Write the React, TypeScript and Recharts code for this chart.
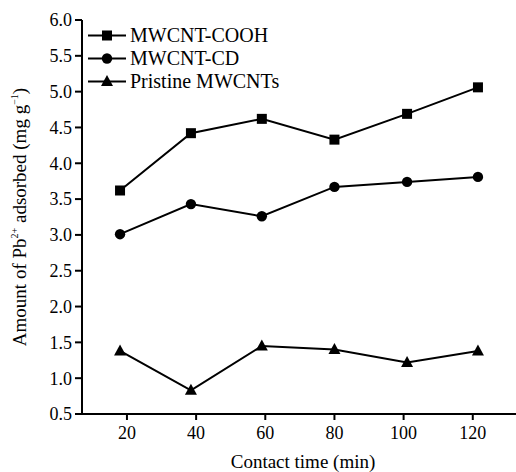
import React from 'react'
import { LineChart, Line, XAxis, YAxis, Legend } from 'recharts'

const FONT = "'Liberation Serif', 'DejaVu Serif', serif"

// contact time (min) for each sampling point
const times = [18, 38.5, 59, 80, 101, 121.5]

// Pb2+ uptake (mg/g)
const cooh = [3.62, 4.42, 4.62, 4.33, 4.69, 5.06]
const cd = [3.01, 3.43, 3.26, 3.67, 3.74, 3.81]
const pristine = [1.38, 0.83, 1.45, 1.4, 1.22, 1.38]

const xTicks = [20, 40, 60, 80, 100, 120]
const yTicks = [0.5, 1.0, 1.5, 2.0, 2.5, 3.0, 3.5, 4.0, 4.5, 5.0, 5.5, 6.0]

const series = [
  { key: 'cooh', name: 'MWCNT-COOH', shape: 'square' },
  { key: 'cd', name: 'MWCNT-CD', shape: 'circle' },
  { key: 'pristine', name: 'Pristine MWCNTs', shape: 'triangle' },
]

const data = times.map((t, i) => ({
  time: t,
  cooh: cooh[i],
  cd: cd[i],
  pristine: pristine[i],
}))

function Marker({ cx, cy, shape }: { cx: number; cy: number; shape: string }) {
  if (cx == null || cy == null) return null
  if (shape === 'square') {
    return <rect x={cx - 5} y={cy - 5} width={10} height={10} fill="#000" />
  }
  if (shape === 'circle') {
    return <circle cx={cx} cy={cy} r={5.2} fill="#000" />
  }
  return (
    <polygon
      points={`${cx},${cy - 6.5} ${cx - 6},${cy + 4.5} ${cx + 6},${cy + 4.5}`}
      fill="#000"
    />
  )
}

function renderLegend() {
  return (
    <div style={{ fontFamily: FONT, fontSize: 20, color: '#000', lineHeight: '23px' }}>
      {series.map(s => (
        <div key={s.key} style={{ display: 'flex', alignItems: 'center', height: 23 }}>
          <svg width={42} height={23} style={{ display: 'block' }}>
            <line x1={0} x2={38} y1={11.5} y2={11.5} stroke="#000" strokeWidth={2} />
            <Marker cx={19} cy={11.5} shape={s.shape} />
          </svg>
          <span style={{ whiteSpace: 'nowrap' }}>{s.name}</span>
        </div>
      ))}
    </div>
  )
}

function YTitle({ viewBox }: any) {
  const cx = 26
  const cy = viewBox.y + viewBox.height / 2
  return (
    <text
      x={cx}
      y={cy}
      transform={`rotate(-90, ${cx}, ${cy})`}
      textAnchor="middle"
      style={{ fontFamily: FONT, fontSize: 19 }}
      fill="#000"
    >
      Amount of Pb
      <tspan dy={-8} style={{ fontSize: 10 }}>2+</tspan>
      <tspan dy={8}> adsorbed (mg g</tspan>
      <tspan dy={-8} style={{ fontSize: 10 }}>−1</tspan>
      <tspan dy={8}>)</tspan>
    </text>
  )
}

function XTitle({ viewBox }: any) {
  return (
    <text
      x={viewBox.x + viewBox.width / 2 + 4}
      y={468}
      textAnchor="middle"
      style={{ fontFamily: FONT, fontSize: 19 }}
      fill="#000"
    >
      Contact time (min)
    </text>
  )
}

const tickStyle = { fontFamily: FONT, fontSize: 18, fill: '#000' }

export default function App() {
  return (
    <div style={{ position: 'absolute', left: 0, top: 0, background: '#fff' }}>
      <LineChart width={516} height={472} data={data} margin={{ top: 20, right: 0, bottom: 0, left: 0 }}>
        <XAxis
          dataKey="time"
          type="number"
          domain={[7, 132.5]}
          ticks={xTicks}
          height={58}
          tickSize={6}
          tickMargin={6}
          tick={tickStyle}
          axisLine={{ stroke: '#000', strokeWidth: 2 }}
          tickLine={{ stroke: '#000', strokeWidth: 2 }}
          label={{ content: XTitle }}
        />
        <YAxis
          type="number"
          domain={[0.5, 6]}
          ticks={yTicks}
          width={82}
          tickSize={7}
          tickMargin={3}
          tick={tickStyle}
          tickFormatter={(v: number) => v.toFixed(1)}
          axisLine={{ stroke: '#000', strokeWidth: 2 }}
          tickLine={{ stroke: '#000', strokeWidth: 2 }}
          label={{ content: YTitle }}
        />
        <Legend
          layout="vertical"
          verticalAlign="middle"
          align="center"
          content={renderLegend}
          wrapperStyle={{ position: 'absolute', left: 88, top: 24, width: 'auto' }}
        />
        {series.map(s => (
          <Line
            key={s.key}
            dataKey={s.key}
            name={s.name}
            stroke="#000"
            strokeWidth={2}
            isAnimationActive={false}
            dot={(p: any) => <Marker key={`${s.key}-${p.index}`} cx={p.cx} cy={p.cy} shape={s.shape} />}
            activeDot={false}
          />
        ))}
      </LineChart>
    </div>
  )
}
